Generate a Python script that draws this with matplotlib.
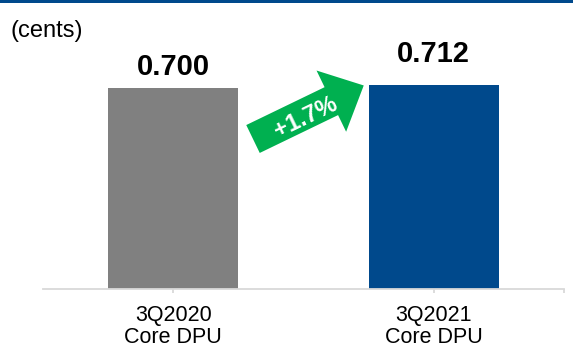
import math
import matplotlib
matplotlib.use("Agg")
import matplotlib.pyplot as plt
from matplotlib.patches import FancyArrow, Rectangle

plt.rcParams['font.family'] = ['Liberation Sans', 'DejaVu Sans']

categories = ["3Q2020\nCore DPU", "3Q2021\nCore DPU"]
values = [0.700, 0.712]
value_labels = ["0.700", "0.712"]
colors = ["#808080", "#00498C"]
growth_label = "+1.7%"
unit_label = "(cents)"

W, H = 573, 346
fig = plt.figure(figsize=(W / 100, H / 100), dpi=100)

ax = fig.add_axes([43 / W, (H - 289) / H, (564 - 43) / W, 249 / H])
x = list(range(len(categories)))
bars = ax.bar(x, values, width=0.5, color=colors, zorder=2)
ax.set_xlim(-0.5, 1.5)
ax.set_ylim(0, 0.8676)
ax.set_yticks([])
for s in ["top", "right", "left"]:
    ax.spines[s].set_visible(False)
ax.spines["bottom"].set_color("#D9D9D9")
ax.spines["bottom"].set_linewidth(1.3)
ax.set_xticks(x)
ax.set_xticklabels(categories, fontsize=15.5, linespacing=1.08)
ax.set_xticks([1.5], minor=True)
ax.tick_params(axis="x", which="both", length=3, color="#D9D9D9", width=1.3, pad=8.5)
ax.patch.set_visible(False)

label_offsets_pt = [9.5, 16]
for b, lab, off in zip(bars, value_labels, label_offsets_pt):
    ax.annotate(lab, (b.get_x() + b.get_width() / 2, b.get_height()),
                xytext=(0, off), textcoords="offset points", ha="center", va="baseline",
                fontsize=21, fontweight="bold", color="black")

# overlay in pixel coordinates for decorations
ov = fig.add_axes([0, 0, 1, 1])
ov.set_xlim(0, W)
ov.set_ylim(H, 0)
ov.axis("off")
ov.add_patch(Rectangle((0, 0), W, 3, color="#00498C", lw=0))
ov.text(10, 31, unit_label, fontsize=17, ha="left", va="center", color="black")

ang = math.radians(25.8)
tx, ty = 253, 139
L = 123
dx, dy = L * math.cos(ang), -L * math.sin(ang)
ov.add_patch(FancyArrow(tx, ty, dx, dy, width=31, head_width=68, head_length=36,
                        length_includes_head=True, color="#00B050", lw=0))
ov.text(306, 117, growth_label, rotation=math.degrees(ang), rotation_mode="anchor",
        ha="center", va="center", fontsize=17, fontweight="bold", color="white")

fig.savefig("out.png", dpi=100)
